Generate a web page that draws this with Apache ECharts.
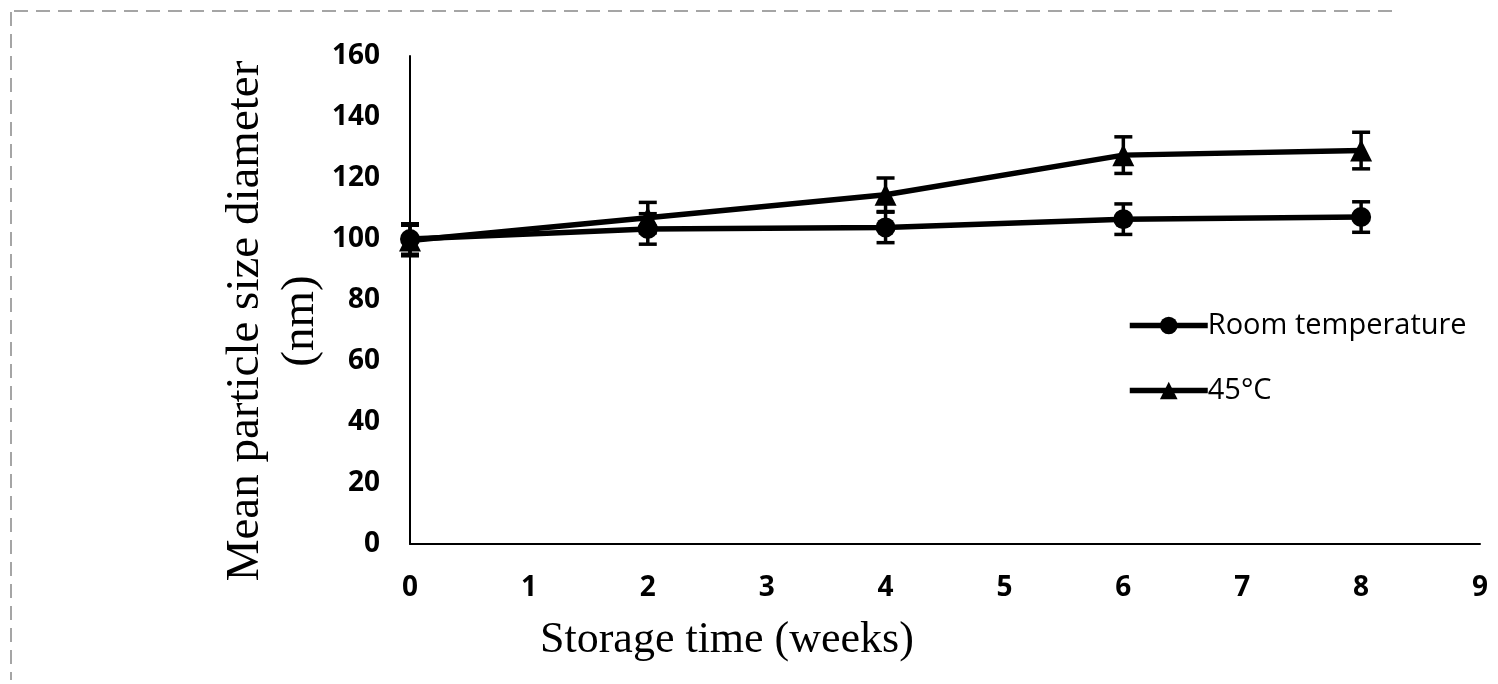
<!DOCTYPE html>
<html><head><meta charset="utf-8">
<script src="https://cdn.jsdelivr.net/npm/echarts@6/dist/echarts.min.js"></script>
<style>html,body{margin:0;padding:0;background:#fff}#c{width:1498px;height:684px}</style>
</head><body><div id="c"></div>
<script>
var weeks = [0, 2, 4, 6, 8];
var roomTemp = [100, 103.3, 103.8, 106.5, 107.2];
var roomErr = [5, 5, 5, 5, 5];
var temp45 = [99.5, 107, 114.5, 127.5, 129];
var err45 = [5, 5, 5.5, 6, 6];
var xTicks = [0, 1, 2, 3, 4, 5, 6, 7, 8, 9];
var yTicks = [0, 20, 40, 60, 80, 100, 120, 140, 160];

function pairs(vals){ return weeks.map(function(w,i){ return [w, vals[i]]; }); }
function errData(vals, errs){ return weeks.map(function(w,i){ return [w, vals[i]-errs[i], vals[i]+errs[i]]; }); }

function errRender(params, api){
  var x = api.value(0);
  var lo = api.coord([x, api.value(1)]);
  var hi = api.coord([x, api.value(2)]);
  var hw = 9;
  var st = {stroke:'#000', lineWidth:3.5};
  return {type:'group', children:[
    {type:'line', shape:{x1:lo[0],y1:lo[1],x2:hi[0],y2:hi[1]}, style:st},
    {type:'line', shape:{x1:lo[0]-hw,y1:lo[1],x2:lo[0]+hw,y2:lo[1]}, style:st},
    {type:'line', shape:{x1:hi[0]-hw,y1:hi[1],x2:hi[0]+hw,y2:hi[1]}, style:st}
  ]};
}

var chart = echarts.init(document.getElementById('c'));
chart.setOption({
  animation:false,
  backgroundColor:'#fff',
  grid:{left:410, right:18, top:56, bottom:140, containLabel:false},
  xAxis:{type:'value', min:xTicks[0], max:xTicks[xTicks.length-1], interval:1,
    axisLine:{show:true, onZero:false, lineStyle:{color:'#000', width:2}},
    axisTick:{show:false}, splitLine:{show:false},
    axisLabel:{color:'#000', fontSize:28, fontWeight:'bold', fontFamily:'Open Sans', margin:30}},
  yAxis:{type:'value', min:yTicks[0], max:yTicks[yTicks.length-1], interval:20,
    axisLine:{show:true, lineStyle:{color:'#000', width:2}},
    axisTick:{show:false}, splitLine:{show:false},
    axisLabel:{color:'#000', fontSize:28, fontWeight:'bold', fontFamily:'Open Sans', margin:30}},
  legend:{orient:'vertical', left:1122, top:306, itemGap:36, itemWidth:78, itemHeight:22,
    lineStyle:{width:5.5},
    textStyle:{color:'#000', fontSize:29, fontFamily:'Open Sans', padding:[0,0,0,-5]},
    data:['Room temperature','45°C']},
  graphic:[
    {type:'text', x:273, y:321, rotation:Math.PI/2,
      style:{text:'Mean particle size diameter\n(nm)', fill:'#000', font:'47px "Liberation Serif"',
        lineHeight:55, align:'center', verticalAlign:'middle'}},
    {type:'text', left:540, top:618, style:{text:'Storage time (weeks)', fill:'#000', font:'44px "Liberation Serif"'}},
    {type:'line', shape:{x1:14,y1:11,x2:1400,y2:11}, style:{stroke:'#888', lineWidth:1.5, lineDash:[14,8]}},
    {type:'line', shape:{x1:11,y1:12,x2:11,y2:680}, style:{stroke:'#888', lineWidth:1.5, lineDash:[14,8]}}
  ],
  series:[
    {name:'Room temperature', type:'line', data:pairs(roomTemp), symbol:'circle', symbolSize:20,
      lineStyle:{color:'#000', width:5.5}, itemStyle:{color:'#000'}, z:3},
    {name:'45°C', type:'line', data:pairs(temp45), symbol:'triangle', symbolSize:22,
      lineStyle:{color:'#000', width:5.5}, itemStyle:{color:'#000'}, z:3},
    {type:'custom', data:errData(roomTemp, roomErr), renderItem:errRender, z:4, silent:true},
    {type:'custom', data:errData(temp45, err45), renderItem:errRender, z:4, silent:true}
  ]
});
</script></body></html>
